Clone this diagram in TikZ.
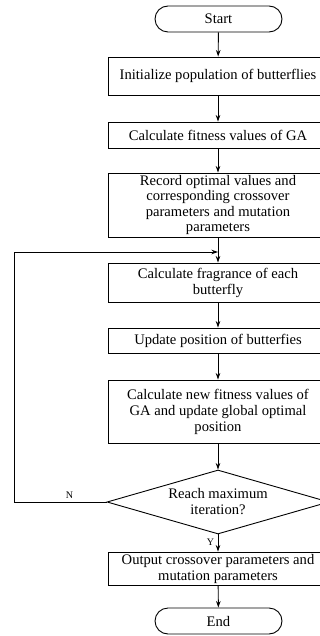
\documentclass[tikz,border=0pt]{standalone}
\usepackage{fontspec}
\setmainfont{Liberation Serif}
\usetikzlibrary{shapes.misc,shapes.geometric,arrows.meta}
\begin{document}
\begin{tikzpicture}[x=1pt,y=-1pt,
  every node/.style={font=\fontsize{14.6}{16}\selectfont},
  proc/.style={draw,line width=0.9pt,minimum width=220pt,inner sep=0pt,align=center},
  term/.style={draw,line width=0.9pt,rounded rectangle,minimum width=127pt,minimum height=26pt,inner sep=0pt},
  arr/.style={line width=0.9pt,-{Stealth[length=6.5pt,width=4.5pt]}},
  lbl/.style={font=\fontsize{10}{12}\selectfont}]
\useasboundingbox (0,0) rectangle (320,636);
\clip (0,0) rectangle (320,636);
\node[term] (start) at (218.5,19) {Start};
\node[proc,minimum height=38pt] (b1) at (218,76) {Initialize population of butterflies};
\node[proc,minimum height=26pt] (b2) at (218,135) {Calculate fitness values of GA};
\node[proc,minimum height=64pt,font=\fontsize{14.6}{15.5}\selectfont] (b3) at (218,205) {Record optimal values and\\corresponding crossover\\parameters and mutation\\parameters};
\node[proc,minimum height=39pt] (b4) at (218,282.5) {Calculate fragrance of each\\butterfly};
\node[proc,minimum height=25pt] (b5) at (218,340.5) {Update position of butterfies};
\node[proc,minimum height=63pt] (b6) at (218,411.5) {Calculate new fitness values of\\GA and update global optimal\\position};
\node[draw,line width=0.9pt,diamond,minimum width=222pt,minimum height=64pt,inner sep=0pt] (dia) at (218,502) {};
\node[align=center] (diat) at (dia.center) {Reach maximum\\iteration?};
\node[proc,minimum height=33pt] (b7) at (218,568.5) {Output crossover parameters and\\mutation parameters};
\node[term] (end) at (218.5,621) {End};
\coordinate (loop) at (218,252);
\coordinate (lx) at (14,502);
\draw[arr] (start) -- (b1);
\draw[arr] (b1) -- (b2);
\draw[arr] (b2) -- (b3);
\draw[arr] (b3) -- (b4);
\draw[arr] (b4) -- (b5);
\draw[arr] (b5) -- (b6);
\draw[arr] (b6) -- (dia.north);
\draw[arr] (dia.south) -- node[lbl,left,pos=0.45] {Y} (b7);
\draw[arr] (b7) -- (end);
\draw[arr] (dia.west) -- node[lbl,above,pos=0.4] {N} (lx) |- (loop);
\end{tikzpicture}
\end{document}
